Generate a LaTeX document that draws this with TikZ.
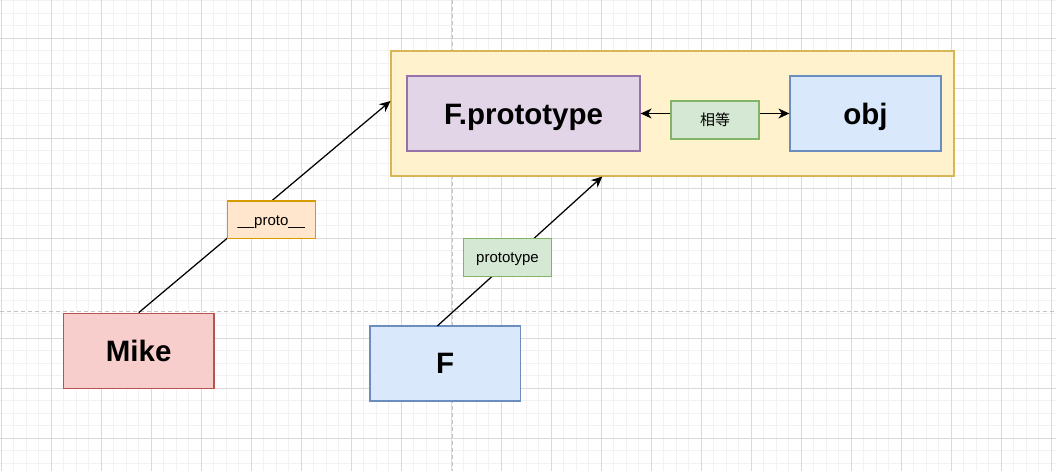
\documentclass[tikz,border=0pt]{standalone}
\usepackage{fontspec}
\setmainfont{Liberation Sans}
\newfontfamily\cjk{Noto Sans CJK SC}
\usetikzlibrary{arrows.meta,calc}
\definecolor{gridminor}{HTML}{F2F2F2}
\definecolor{gridmajor}{HTML}{DADADA}
\definecolor{pageline}{HTML}{C4C4C4}
\definecolor{yelfill}{HTML}{FFF2CC}\definecolor{yelline}{HTML}{D6B656}
\definecolor{purfill}{HTML}{E1D5E7}\definecolor{purline}{HTML}{9673A6}
\definecolor{blufill}{HTML}{DAE8FC}\definecolor{bluline}{HTML}{6C8EBF}
\definecolor{grnfill}{HTML}{D5E8D4}\definecolor{grnline}{HTML}{82B366}
\definecolor{orafill}{HTML}{FFE6CC}\definecolor{oraline}{HTML}{D79B00}
\definecolor{redfill}{HTML}{F8CECC}\definecolor{redline}{HTML}{B85450}
\tikzset{
  box/.style={rectangle, inner sep=0pt, line width=1.25pt},
  bigtext/.style={font=\fontsize{29.5}{34}\selectfont\bfseries, text height=21.1pt, text depth=0pt},
  smalltext/.style={font=\fontsize{15}{18}\selectfont, text height=10.7pt, text depth=0pt},
  arr/.style={line width=1.25pt, -{Stealth[length=11pt,width=10pt,inset=3.5pt]}},
}
\begin{document}
\begin{tikzpicture}[x=1pt,y=-1pt]
\useasboundingbox (0,0) rectangle (1056,471);
\fill[white] (0,0) rectangle (1056,471);
% grid
\foreach \i in {0,...,84} {\draw[gridminor, line width=1pt] ({1.3+12.5*\i},0) -- ++(0,471);}
\foreach \i in {0,...,37} {\draw[gridminor, line width=1pt] (0,{0.8+12.5*\i}) -- ++(1056,0);}
\foreach \i in {0,...,21} {\draw[gridmajor, line width=1pt] ({1.3+50*\i},0) -- ++(0,471);}
\foreach \i in {0,...,8} {\draw[gridmajor, line width=1pt] (0,{38.3+50*\i}) -- ++(1056,0);}
\draw[pageline, line width=1pt, dash pattern=on 4pt off 3pt] (452.3,0) -- (452.3,471);
\draw[pageline, line width=1pt, dash pattern=on 4pt off 3pt] (0,311.3) -- (1056,311.3);
% nodes
\node[box, draw=yelline, fill=yelfill, minimum width=563pt, minimum height=125pt] (container) at (672.5,113.5) {};
\node[box, draw=purline, fill=purfill, minimum width=233pt, minimum height=75pt, bigtext] (fproto) at (523.5,113.5) {F.prototype};
\node[box, draw=bluline, fill=blufill, minimum width=151pt, minimum height=75pt, bigtext] (obj) at (865.5,113.5) {obj};
\node[box, draw=grnline, fill=grnfill, minimum width=88pt, minimum height=38pt, font=\fontsize{15}{18}\selectfont] (eq) at (715,120) {\cjk 相等};
\node[box, draw=redline, fill=redfill, minimum width=150.5pt, minimum height=75.5pt, bigtext] (mike) at (138.7,351) {Mike};
\node[box, draw=bluline, fill=blufill, minimum width=150.5pt, minimum height=75pt, bigtext] (F) at (445.2,363.4) {F};
\coordinate (c1) at (390.5,101);
\coordinate (c2) at (602.3,176.5);
\coordinate (fstart) at (437.3,326);
% connectors
\draw[arr] (mike.north) -- (c1);
\draw[arr] (fstart) -- (c2);
\draw[arr] (eq.west |- fproto.east) -- (fproto.east);
\draw[arr] (eq.east |- obj.west) -- (obj.west);
% edge labels
\node[box, draw=oraline, fill=orafill, minimum width=88pt, minimum height=37.7pt, smalltext] (lproto) at (271.3,219.9) {\_\_proto\_\_};
\node[box, draw=grnline, fill=grnfill, minimum width=87.6pt, minimum height=38pt, smalltext] (lprototype) at (507.5,257.3) {prototype};
\end{tikzpicture}
\end{document}
